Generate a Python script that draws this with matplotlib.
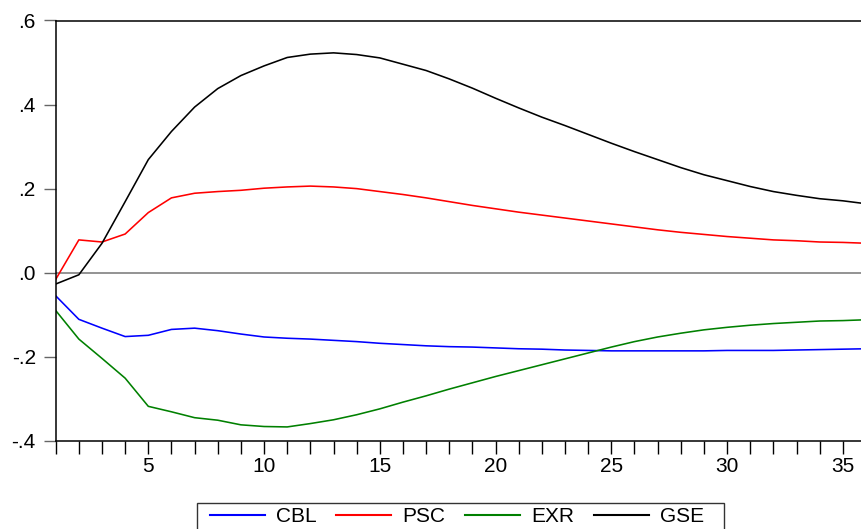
import numpy as np
import matplotlib
matplotlib.use("Agg")
import matplotlib.pyplot as plt
from matplotlib.ticker import MultipleLocator, FuncFormatter
from matplotlib.patches import Rectangle

plt.rcParams['font.family'] = ['Liberation Sans', 'DejaVu Sans']

# impulse responses, periods 1..36
periods = list(range(1, 37))
cbl = [-0.055, -0.111, -0.132, -0.152, -0.149, -0.135, -0.132, -0.138, -0.146, -0.153,
       -0.156, -0.158, -0.161, -0.164, -0.168, -0.171, -0.174, -0.176, -0.177, -0.179,
       -0.181, -0.182, -0.184, -0.185, -0.186, -0.186, -0.186, -0.186, -0.186, -0.185,
       -0.185, -0.185, -0.184, -0.183, -0.182, -0.181]
psc = [-0.016, 0.078, 0.073, 0.092, 0.143, 0.178, 0.189, 0.193, 0.196, 0.201,
       0.204, 0.206, 0.204, 0.200, 0.193, 0.186, 0.178, 0.169, 0.160, 0.152,
       0.144, 0.137, 0.130, 0.123, 0.116, 0.109, 0.102, 0.096, 0.091, 0.086,
       0.082, 0.078, 0.076, 0.073, 0.072, 0.070]
exr = [-0.090, -0.158, -0.204, -0.251, -0.318, -0.331, -0.345, -0.351, -0.362, -0.366,
       -0.367, -0.359, -0.350, -0.338, -0.324, -0.308, -0.293, -0.277, -0.262, -0.247,
       -0.233, -0.219, -0.205, -0.191, -0.177, -0.164, -0.153, -0.144, -0.136, -0.130,
       -0.125, -0.121, -0.118, -0.115, -0.114, -0.112]
gse = [-0.027, -0.005, 0.070, 0.169, 0.269, 0.336, 0.394, 0.438, 0.469, 0.492,
       0.512, 0.520, 0.523, 0.519, 0.511, 0.496, 0.481, 0.461, 0.439, 0.415,
       0.392, 0.370, 0.350, 0.329, 0.308, 0.288, 0.269, 0.250, 0.233, 0.219,
       0.205, 0.193, 0.184, 0.176, 0.171, 0.164]

series = [("CBL", cbl, "#0000ff"), ("PSC", psc, "#ff0000"),
          ("EXR", exr, "#008000"), ("GSE", gse, "#000000")]

W, H = 862, 529
fs = 15
fig = plt.figure(figsize=(W / 100, H / 100), dpi=100)
ax = fig.add_axes([55.7 / W, 1 - 440.8 / H, (866 - 55.7) / W, (440.8 - 20.5) / H])

ax.axhline(0, color="#808080", lw=1.2, zorder=1)
for name, vals, col in series:
    ax.plot(periods, vals, color=col, lw=1.15, label=name, zorder=2)

ax.set_xlim(1, 36)
ax.set_ylim(-0.4, 0.6)
ax.xaxis.set_major_locator(MultipleLocator(5))
ax.xaxis.set_minor_locator(MultipleLocator(1))
ax.yaxis.set_major_locator(MultipleLocator(0.2))


def eviews_fmt(v, pos):
    s = f"{v:.1f}"
    return s.replace("0.", ".")


ax.yaxis.set_major_formatter(FuncFormatter(eviews_fmt))
ax.tick_params(axis="x", which="both", direction="out", length=9, width=1,
               color="#000000", labelsize=fs, pad=2.8)
ax.tick_params(axis="y", which="major", direction="out", length=9, width=1,
               color="#666666", labelsize=fs, pad=5.3)
for side in ("left", "bottom", "top"):
    ax.spines[side].set_linewidth(1.1)
    ax.spines[side].set_color("#000000")
ax.spines["right"].set_visible(False)

# legend below the plot (frame drawn separately, cut by the figure edge)
fig.patches.append(Rectangle((196.7 / W, -0.05), (723.6 - 196.7) / W, 0.05 + 1 - 502.7 / H,
                             transform=fig.transFigure, fill=False,
                             edgecolor="#333333", lw=1.0))
handles, labels = ax.get_legend_handles_labels()
leg = fig.legend(handles, labels, loc="upper left", bbox_to_anchor=(210 / W, 1 - 507.5 / H),
                 ncol=4, frameon=False, fontsize=fs, borderpad=0, borderaxespad=0,
                 handlelength=2.64, handletextpad=0.51, columnspacing=0.97)
for line in leg.get_lines():
    line.set_linewidth(1.5)

fig.savefig("out.png", dpi=100)
